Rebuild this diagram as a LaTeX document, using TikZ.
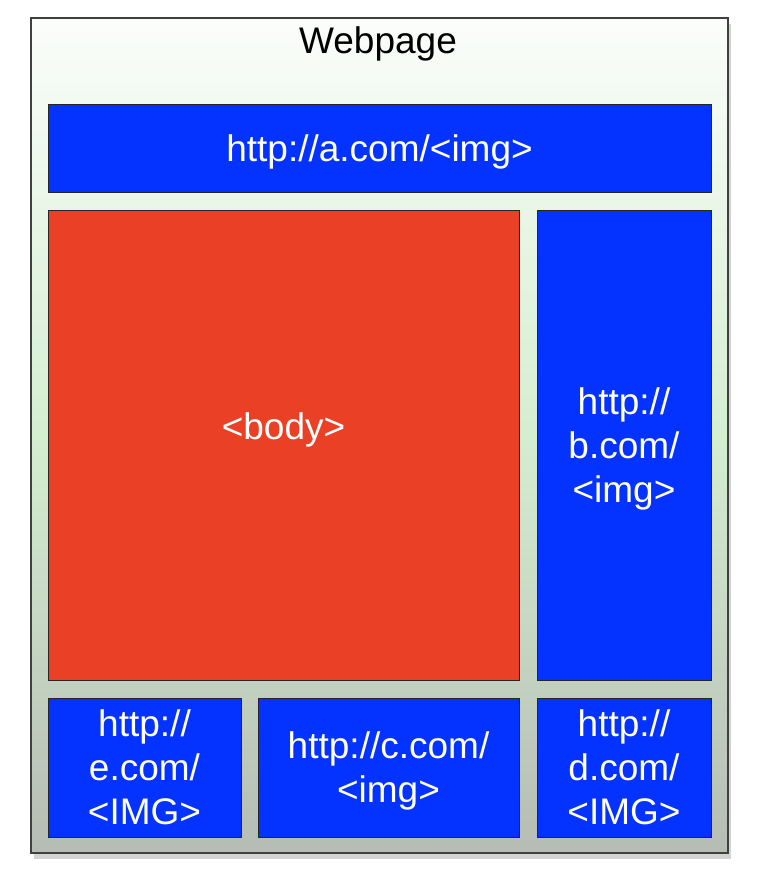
\documentclass[tikz,border=0pt]{standalone}
\usepackage{fontspec}
\setmainfont{Liberation Sans}
\usetikzlibrary{shadows}
\definecolor{linkblue}{RGB}{4,51,255}
\definecolor{bodyred}{RGB}{234,65,38}
\definecolor{pagetop}{RGB}{251,253,251}
\definecolor{pagemid}{RGB}{212,238,208}
\definecolor{pagebot}{RGB}{182,188,180}
\begin{document}
\begin{tikzpicture}[x=1pt, y=-1pt,
    region/.style={draw=black!85, line width=1pt, inner sep=0pt, text=white,
      align=center, text depth=0pt, font=\fontsize{37}{44}\selectfont},
    link/.style={region, fill=linkblue},
    body/.style={region, fill=bodyred}]
  \useasboundingbox (0,0) rectangle (756,880);

  % the page itself
  \node[draw=black!75, line width=1.4pt, inner sep=0pt,
        top color=pagetop, bottom color=pagebot, middle color=pagemid,
        drop shadow={shadow xshift=3pt, shadow yshift=-6pt, opacity=0.35},
        minimum width=697pt, minimum height=835pt] (page) at (379.5,435.5) {};
  \node[font=\fontsize{37}{44}\selectfont] (title) at (378,44) {Webpage};

  % header and body
  \node[link, minimum width=663pt, minimum height=87pt] (a) at (379.5,148.5) {http://a.com/<img>};
  \node[body, minimum width=471pt, minimum height=470pt] (main) at (283.5,445) {};
  \node[text=white, font=\fontsize{37}{44}\selectfont] (bodytext) at (283.5,430) {<body>};
  \node[link, minimum width=174pt, minimum height=470pt] (b) at (624,445) {http://\\b.com/\\<img>};

  % bottom row
  \node[link, minimum width=193pt, minimum height=139pt] (e) at (144.5,767.5) {http://\\e.com/\\<IMG>};
  \node[link, minimum width=261pt, minimum height=139pt] (c) at (388.5,767.5) {http://c.com/\\<img>};
  \node[link, minimum width=174pt, minimum height=139pt] (d) at (624,767.5) {http://\\d.com/\\<IMG>};
\end{tikzpicture}
\end{document}
